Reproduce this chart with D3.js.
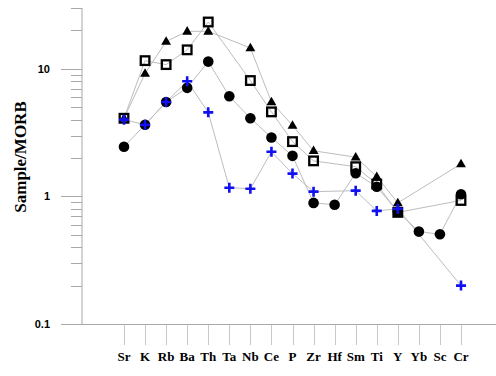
<!DOCTYPE html>
<html>
<head>
<meta charset="utf-8">
<script src="https://cdn.jsdelivr.net/npm/d3@7"></script>
<style>
  body { margin: 0; background: #fff; }
  svg { display: block; }
</style>
</head>
<body>
<div id="chart"></div>
<script>
// spider diagram, normalised to MORB
var elements = ["Sr","K","Rb","Ba","Th","Ta","Nb","Ce","P","Zr","Hf","Sm","Ti","Y","Yb","Sc","Cr"];

// null = not analysed
var triangles = [4.1, 9.2, 16.4, 19.7, 19.7, null, 14.6, 5.5, 3.6, 2.28, null, 2.03, 1.43, 0.89, null, null, 1.8];
var squares   = [4.1, 11.6, 10.8, 14.1, 23.3, null, 8.1, 4.6, 2.69, 1.9, null, 1.71, 1.25, 0.75, null, null, 0.93];
var circles   = [2.45, 3.65, 5.5, 7.1, 11.4, 6.1, 4.1, 2.9, 2.08, 0.89, 0.86, 1.52, 1.19, 0.76, 0.53, 0.505, 1.04];
var crosses   = [4.0, 3.65, 5.5, 8.0, 4.56, 1.17, 1.15, 2.24, 1.51, 1.09, null, 1.11, 0.77, 0.8, null, null, 0.2];

var yTicks = [0.1, 1, 10];

var width = 496, height = 376;

var svg = d3.select("#chart").append("svg")
    .attr("width", width)
    .attr("height", height);

var x = d3.scalePoint()
    .domain(elements)
    .range([124, 461]);

var y = d3.scaleLog()
    .domain([0.1, 30])
    .range([324, 8]);

var axisColor = "#a8a8a8";

// y axis with log minor ticks
var minor = [];
[0.1, 1, 10].forEach(function(d){
    for (var k = 2; k <= 9; k++) {
        if (d * k <= 30) minor.push(d * k);
    }
});

svg.append("line")
    .attr("x1", 82).attr("x2", 82)
    .attr("y1", y(30)).attr("y2", y(0.1))
    .attr("stroke", axisColor);

svg.selectAll(".minor")
    .data(minor)
    .enter()
    .append("line")
    .attr("x1", 71).attr("x2", 82)
    .attr("y1", d => Math.round(y(d)) + 0.5)
    .attr("y2", d => Math.round(y(d)) + 0.5)
    .attr("stroke", axisColor);

svg.selectAll(".major")
    .data(yTicks)
    .enter()
    .append("line")
    .attr("x1", 61).attr("x2", 82)
    .attr("y1", d => Math.round(y(d)) + 0.5)
    .attr("y2", d => Math.round(y(d)) + 0.5)
    .attr("stroke", axisColor);

svg.selectAll(".ylab")
    .data(yTicks)
    .enter()
    .append("text")
    .attr("x", 50)
    .attr("y", d => y(d) + 4)
    .attr("text-anchor", "end")
    .attr("font-family", "Liberation Sans, Arial, sans-serif")
    .attr("font-weight", "bold")
    .attr("font-size", 11)
    .text(d => d);

svg.append("text")
    .attr("transform", "translate(26,157) rotate(-90)")
    .attr("text-anchor", "middle")
    .attr("font-family", "Liberation Serif, Times New Roman, serif")
    .attr("font-weight", "bold")
    .attr("font-size", 17)
    .text("Sample/MORB");

// x axis
svg.append("line")
    .attr("x1", 82).attr("x2", 496)
    .attr("y1", 324.5).attr("y2", 324.5)
    .attr("stroke", axisColor);

svg.selectAll(".xtick")
    .data(elements)
    .enter()
    .append("line")
    .attr("x1", d => Math.round(x(d)) + 0.5)
    .attr("x2", d => Math.round(x(d)) + 0.5)
    .attr("y1", 325).attr("y2", 345)
    .attr("stroke", "#c8c8c8");

svg.selectAll(".xlab")
    .data(elements)
    .enter()
    .append("text")
    .attr("x", d => x(d))
    .attr("y", 361)
    .attr("text-anchor", "middle")
    .attr("font-family", "Liberation Serif, Times New Roman, serif")
    .attr("font-weight", "bold")
    .attr("font-size", 13)
    .text(d => d);

function pts(vals){
    var out = [];
    vals.forEach(function(v, i){
        if (v != null) out.push({el: elements[i], v: v});
    });
    return out;
}

var line = d3.line()
    .x(d => x(d.el))
    .y(d => y(d.v));

var series = [triangles, squares, circles, crosses];
series.forEach(function(s){
    svg.append("path")
        .attr("d", line(pts(s)))
        .attr("fill", "none")
        .attr("stroke", "#bdbdbd")
        .attr("stroke-width", 1);
});

// circles
svg.selectAll(".circ")
    .data(pts(circles))
    .enter()
    .append("circle")
    .attr("cx", d => x(d.el))
    .attr("cy", d => y(d.v))
    .attr("r", 5.3)
    .attr("fill", "#000");

// triangles
var tri = d3.symbol().type(d3.symbolTriangle).size(42);
svg.selectAll(".tri")
    .data(pts(triangles))
    .enter()
    .append("path")
    .attr("d", tri)
    .attr("transform", d => "translate(" + x(d.el) + "," + (y(d.v) + 0.5) + ")")
    .attr("fill", "#000");

// open squares
svg.selectAll(".sq")
    .data(pts(squares))
    .enter()
    .append("rect")
    .attr("x", d => x(d.el) - 4.3)
    .attr("y", d => y(d.v) - 4.3)
    .attr("width", 8.6)
    .attr("height", 8.6)
    .attr("fill", "none")
    .attr("stroke", "#000")
    .attr("stroke-width", 2.3);

// blue crosses
svg.selectAll(".cross")
    .data(pts(crosses))
    .enter()
    .append("path")
    .attr("d", d => {
        var cx = x(d.el), cy = y(d.v);
        return "M" + (cx - 5) + "," + cy + "H" + (cx + 5) + "M" + cx + "," + (cy - 5) + "V" + (cy + 5);
    })
    .attr("stroke", "#1010f0")
    .attr("stroke-width", 2.6)
    .attr("fill", "none");
</script>
</body>
</html>
